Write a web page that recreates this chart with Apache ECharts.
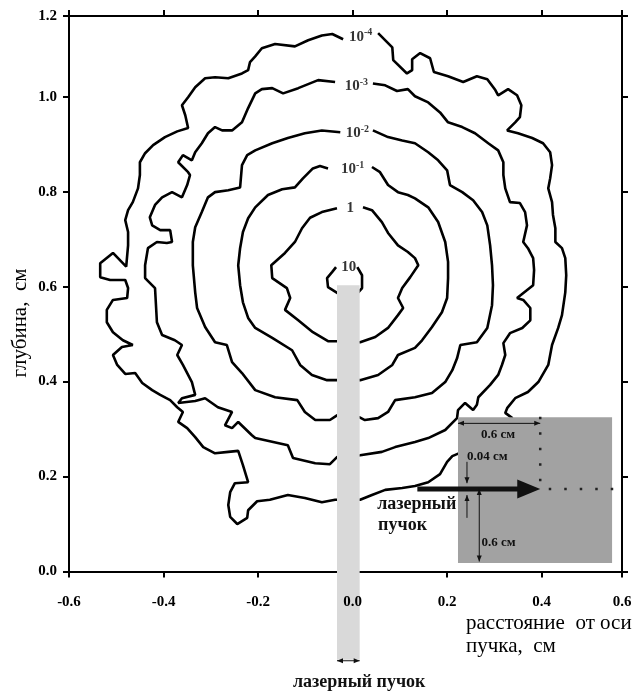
<!DOCTYPE html>
<html>
<head>
<meta charset="utf-8">
<script src="https://cdn.jsdelivr.net/npm/echarts@6/dist/echarts.min.js"></script>
<style>
html,body{margin:0;padding:0;background:#fff}
#main{width:632px;height:695px}
</style>
</head>
<body>
<div id="main"></div>
<script>
// ---------- данные: изолинии (x — расстояние от оси, см; y — глубина, см) ----------
var c4 = [[0.054,1.134],[0.084,1.104],[0.086,1.077],[0.115,1.049],[0.126,1.056],[0.126,1.079],[0.143,1.092],[0.164,1.081],[0.172,1.052],[0.202,1.043],[0.234,1.031],[0.263,1.043],[0.285,1.037],[0.302,1.014],[0.308,1.003],[0.329,1.016],[0.348,1.003],[0.357,0.982],[0.354,0.957],[0.344,0.946],[0.327,0.929],[0.350,0.923],[0.380,0.913],[0.403,0.902],[0.418,0.883],[0.422,0.856],[0.418,0.828],[0.414,0.807],[0.422,0.778],[0.424,0.751],[0.429,0.723],[0.429,0.694],[0.443,0.681],[0.450,0.660],[0.452,0.624],[0.450,0.588],[0.443,0.540],[0.435,0.513],[0.422,0.477],[0.414,0.435],[0.393,0.399],[0.371,0.378],[0.344,0.365],[0.327,0.344],[0.323,0.334],[0.338,0.323],[0.291,0.277],[0.232,0.252],[0.211,0.243],[0.200,0.231],[0.185,0.205],[0.160,0.188],[0.132,0.180],[0.105,0.176],[0.069,0.172],[0.041,0.161],[0.016,0.151],[-0.037,0.151],[-0.065,0.146],[-0.101,0.155],[-0.137,0.161],[-0.175,0.151],[-0.202,0.148],[-0.221,0.129],[-0.223,0.113],[-0.244,0.100],[-0.259,0.115],[-0.263,0.140],[-0.259,0.167],[-0.249,0.186],[-0.221,0.188],[-0.232,0.224],[-0.242,0.254],[-0.263,0.252],[-0.291,0.249],[-0.316,0.262],[-0.333,0.283],[-0.350,0.302],[-0.369,0.315],[-0.359,0.336],[-0.371,0.346],[-0.386,0.361],[-0.407,0.372],[-0.424,0.382],[-0.445,0.397],[-0.460,0.418],[-0.481,0.416],[-0.498,0.435],[-0.507,0.456],[-0.488,0.473],[-0.465,0.477],[-0.486,0.487],[-0.507,0.504],[-0.520,0.525],[-0.520,0.551],[-0.507,0.572],[-0.477,0.576],[-0.475,0.597],[-0.481,0.614],[-0.513,0.614],[-0.534,0.620],[-0.534,0.649],[-0.507,0.671],[-0.479,0.642],[-0.475,0.687],[-0.475,0.715],[-0.481,0.740],[-0.475,0.761],[-0.465,0.778],[-0.454,0.807],[-0.450,0.835],[-0.450,0.862],[-0.439,0.881],[-0.422,0.898],[-0.397,0.915],[-0.371,0.927],[-0.348,0.934],[-0.354,0.961],[-0.361,0.982],[-0.348,0.999],[-0.333,1.020],[-0.312,1.039],[-0.291,1.041],[-0.263,1.039],[-0.234,1.049],[-0.221,1.056],[-0.217,1.073],[-0.206,1.085],[-0.192,1.102],[-0.164,1.111],[-0.122,1.106],[-0.094,1.119],[-0.065,1.129],[-0.043,1.132],[-0.020,1.121]];

var c3 = [[0.043,1.028],[0.069,1.024],[0.094,1.012],[0.117,1.016],[0.132,1.001],[0.160,0.988],[0.185,0.967],[0.202,0.946],[0.232,0.936],[0.259,0.923],[0.287,0.902],[0.308,0.887],[0.319,0.862],[0.319,0.835],[0.323,0.807],[0.333,0.778],[0.354,0.776],[0.365,0.757],[0.369,0.729],[0.361,0.694],[0.371,0.681],[0.382,0.660],[0.384,0.635],[0.382,0.603],[0.348,0.576],[0.361,0.572],[0.376,0.555],[0.376,0.529],[0.359,0.513],[0.333,0.502],[0.319,0.481],[0.323,0.456],[0.316,0.435],[0.308,0.414],[0.291,0.393],[0.266,0.367],[0.263,0.351],[0.255,0.340],[0.238,0.355],[0.223,0.340],[0.221,0.323],[0.213,0.315],[0.196,0.298],[0.160,0.281],[0.132,0.273],[0.090,0.262],[0.062,0.252],[0.016,0.245],[-0.033,0.241],[-0.048,0.226],[-0.079,0.228],[-0.126,0.239],[-0.137,0.266],[-0.206,0.281],[-0.213,0.287],[-0.242,0.315],[-0.255,0.302],[-0.270,0.308],[-0.255,0.336],[-0.285,0.346],[-0.312,0.365],[-0.333,0.359],[-0.369,0.355],[-0.361,0.365],[-0.333,0.372],[-0.340,0.399],[-0.359,0.435],[-0.371,0.456],[-0.361,0.477],[-0.376,0.487],[-0.403,0.498],[-0.414,0.525],[-0.418,0.597],[-0.439,0.618],[-0.439,0.645],[-0.433,0.681],[-0.414,0.694],[-0.393,0.692],[-0.382,0.694],[-0.386,0.719],[-0.407,0.719],[-0.424,0.729],[-0.429,0.746],[-0.418,0.772],[-0.403,0.788],[-0.382,0.799],[-0.361,0.788],[-0.350,0.814],[-0.344,0.835],[-0.348,0.841],[-0.369,0.862],[-0.359,0.877],[-0.340,0.866],[-0.333,0.883],[-0.319,0.902],[-0.306,0.923],[-0.291,0.936],[-0.276,0.929],[-0.255,0.929],[-0.234,0.946],[-0.221,0.976],[-0.206,1.007],[-0.192,1.016],[-0.170,1.018],[-0.147,1.007],[-0.115,1.018],[-0.073,1.035],[-0.037,1.031]];

var c2 = [[0.043,0.929],[0.075,0.915],[0.105,0.908],[0.132,0.902],[0.160,0.883],[0.181,0.866],[0.200,0.845],[0.206,0.814],[0.232,0.799],[0.255,0.782],[0.274,0.757],[0.285,0.729],[0.291,0.687],[0.295,0.645],[0.297,0.603],[0.295,0.561],[0.285,0.513],[0.263,0.483],[0.228,0.477],[0.221,0.449],[0.211,0.424],[0.196,0.399],[0.168,0.376],[0.132,0.367],[0.090,0.361],[0.075,0.336],[0.054,0.323],[0.026,0.319],[0.014,0.325],[-0.033,0.329],[-0.048,0.319],[-0.079,0.319],[-0.101,0.336],[-0.117,0.361],[-0.164,0.367],[-0.206,0.382],[-0.234,0.418],[-0.255,0.441],[-0.266,0.477],[-0.291,0.483],[-0.312,0.515],[-0.329,0.555],[-0.333,0.588],[-0.338,0.645],[-0.338,0.694],[-0.333,0.725],[-0.319,0.757],[-0.306,0.788],[-0.291,0.799],[-0.263,0.803],[-0.238,0.809],[-0.234,0.856],[-0.223,0.877],[-0.206,0.887],[-0.170,0.902],[-0.137,0.913],[-0.101,0.923],[-0.065,0.929],[-0.026,0.925]];

var c1 = [[0.041,0.852],[0.058,0.841],[0.075,0.814],[0.096,0.799],[0.117,0.793],[0.132,0.786],[0.160,0.767],[0.181,0.736],[0.196,0.694],[0.202,0.652],[0.202,0.618],[0.200,0.576],[0.189,0.546],[0.168,0.515],[0.147,0.487],[0.132,0.471],[0.096,0.456],[0.084,0.435],[0.054,0.414],[0.016,0.403],[-0.033,0.403],[-0.054,0.403],[-0.086,0.414],[-0.111,0.435],[-0.128,0.466],[-0.170,0.492],[-0.206,0.513],[-0.221,0.534],[-0.232,0.567],[-0.238,0.603],[-0.242,0.645],[-0.238,0.681],[-0.232,0.715],[-0.221,0.744],[-0.206,0.767],[-0.179,0.793],[-0.149,0.805],[-0.122,0.809],[-0.105,0.828],[-0.084,0.849],[-0.069,0.854],[-0.052,0.849]];

var c0 = [[0.022,0.767],[0.041,0.761],[0.062,0.736],[0.075,0.713],[0.096,0.687],[0.117,0.673],[0.132,0.660],[0.139,0.645],[0.122,0.620],[0.105,0.597],[0.096,0.576],[0.107,0.555],[0.096,0.540],[0.075,0.513],[0.048,0.494],[0.016,0.483],[-0.033,0.485],[-0.052,0.485],[-0.084,0.504],[-0.115,0.529],[-0.143,0.551],[-0.132,0.576],[-0.139,0.597],[-0.170,0.618],[-0.172,0.645],[-0.143,0.671],[-0.122,0.694],[-0.107,0.723],[-0.090,0.745],[-0.065,0.757],[-0.033,0.765]];

var c10 = [[0.010,0.641],[0.020,0.624],[0.020,0.597],[0.012,0.588],[-0.031,0.586],[-0.052,0.599],[-0.054,0.618],[-0.043,0.631],[-0.035,0.641]];

var contours = [c4, c3, c2, c1, c0, c10];

// подписи изолиний: основание, показатель, положение
var levelBase = ['10', '10', '10', '10', '1', '10'];
var levelExp  = ['-4', '-3', '-2', '-1', '', ''];
var levelPos  = [[0.017,1.126],[0.008,1.022],[0.010,0.923],[0.000,0.847],[-0.005,0.765],[-0.008,0.641]];

// лазерный пучок (x0, x1, верх, низ) и вставка
var beam = [-0.033, 0.015, 0.603, -0.186];
var inset = [0.223, 0.549, 0.325, 0.018];

var xMin = -0.6, xMax = 0.57, yMin = 0, yMax = 1.17, step = 0.2;
var serif = '"Liberation Serif", "Times New Roman", serif';

var myChart = echarts.init(document.getElementById('main'));

function fmtX(v) { return (v > 0.55 ? 0.6 : v).toFixed(1); }
function fmtY(v) { return (v > 1.15 ? 1.2 : v).toFixed(1); }

function head(tip, tail, len, half, color) {
	var dx = tip[0] - tail[0], dy = tip[1] - tail[1];
	var d = Math.sqrt(dx * dx + dy * dy) || 1;
	var ux = dx / d, uy = dy / d;
	var bx = tip[0] - ux * len, by = tip[1] - uy * len;
	return {type: 'polygon', shape: {points: [[tip[0], tip[1]], [bx - uy * half, by + ux * half], [bx + uy * half, by - ux * half]]}, style: {fill: color}};
}
function dim(a, b, both) {
	var out = [{type: 'line', shape: {x1: a[0], y1: a[1], x2: b[0], y2: b[1]}, style: {stroke: '#111', lineWidth: 1}}];
	out.push(head(b, a, 6, 2.5, '#111'));
	if (both) out.push(head(a, b, 6, 2.5, '#111'));
	return out;
}
function txt(p, s, size, align) {
	return {type: 'text', x: p[0], y: p[1], style: {text: s, font: 'bold ' + size + 'px ' + serif, fill: '#111', align: align || 'center', verticalAlign: 'middle'}};
}

// серый столбик пучка + подпись под осью
function beamRender(params, api) {
	var p0 = api.coord([beam[0], beam[2]]);
	var p1 = api.coord([beam[1], beam[3]]);
	var kids = [{type: 'rect', shape: {x: p0[0], y: p0[1], width: p1[0] - p0[0], height: p1[1] - p0[1]}, style: {fill: '#d9d9d9'}}];
	kids = kids.concat(dim(api.coord([beam[0], -0.188]), api.coord([beam[1], -0.188]), true));
	kids.push(txt(api.coord([0.014, -0.234]), 'лазерный пучок', 18));
	return {type: 'group', children: kids};
}

// вставка: схема облучения
function insetRender(params, api) {
	var c = function (p) { return api.coord(p); };
	var b0 = c([inset[0], inset[2]]), b1 = c([inset[1], inset[3]]);
	var kids = [{type: 'rect', shape: {x: b0[0], y: b0[1], width: b1[0] - b0[0], height: b1[1] - b0[1]}, style: {fill: '#a2a2a2'}}];
	// точечные линии
	var h0 = c([0.415, 0.174]), h1 = c([0.552, 0.174]);
	kids.push({type: 'line', shape: {x1: h0[0], y1: h0[1], x2: h1[0], y2: h1[1]}, style: {stroke: '#222', lineWidth: 2.5, lineDash: [2.5, 13]}});
	var v0 = c([0.397, 0.326]), v1 = c([0.397, 0.186]);
	kids.push({type: 'line', shape: {x1: v0[0], y1: v0[1], x2: v1[0], y2: v1[1]}, style: {stroke: '#222', lineWidth: 2.5, lineDash: [2.5, 13]}});
	// толстая стрелка пучка
	var a0 = c([0.137, 0.174]), a1 = c([0.397, 0.174]);
	kids.push({type: 'line', shape: {x1: a0[0], y1: a0[1], x2: a1[0] - 15, y2: a1[1]}, style: {stroke: '#111', lineWidth: 5}});
	kids.push(head(a1, a0, 23, 9.5, '#111'));
	// размерные стрелки
	kids = kids.concat(dim(c([0.223, 0.312]), c([0.397, 0.312]), true));
	kids = kids.concat(dim(c([0.268, 0.174]), c([0.268, 0.021]), true));
	kids = kids.concat(dim(c([0.242, 0.231]), c([0.242, 0.186]), false));
	kids = kids.concat(dim(c([0.242, 0.113]), c([0.242, 0.161]), false));
	kids.push(txt(c([0.308, 0.289]), '0.6 см', 13));
	kids.push(txt(c([0.285, 0.241]), '0.04 см', 13));
	kids.push(txt(c([0.309, 0.061]), '0.6 см', 13));
	kids.push(txt(c([0.052, 0.142]), 'лазерный', 18, 'left'));
	kids.push(txt(c([0.054, 0.097]), 'пучок', 18, 'left'));
	return {type: 'group', children: kids};
}

var series = [];
for (var i = 0; i < contours.length; i++) {
	series.push({
		type: 'line',
		data: contours[i],
		symbol: 'none',
		lineStyle: {color: '#000', width: 2.6},
		z: 2,
		silent: true
	});
}
series.push({
	type: 'scatter',
	symbolSize: 0,
	z: 6,
	silent: true,
	data: levelPos.map(function (p, i) {
		var t = '{b|' + levelBase[i] + '}' + (levelExp[i] ? '{s|' + levelExp[i] + '}' : '');
		return {value: p, label: {formatter: t}};
	}),
	label: {
		show: true,
		position: 'inside',
		rich: {
			b: {fontFamily: serif, fontWeight: 'bold', fontSize: 15, color: '#000'},
			s: {fontFamily: serif, fontWeight: 'bold', fontSize: 10, color: '#000', padding: [0, 0, 8, 0]}
		}
	}
});
series.push({type: 'custom', renderItem: beamRender, data: [[beam[0], beam[2]]], clip: false, z: 5, silent: true});
series.push({type: 'custom', renderItem: insetRender, data: [[inset[0], inset[2]]], clip: false, z: 7, silent: true});

var axisLineStyle = {show: true, onZero: false, lineStyle: {color: '#000', width: 2}};
var tickStyle = {show: true, inside: false, length: 6, lineStyle: {color: '#000', width: 2}};
var labelStyle = {fontFamily: serif, fontWeight: 'bold', fontSize: 15, color: '#000'};

option = {
	animation: false,
	backgroundColor: '#fff',
	grid: {left: 69, right: 10, top: 16, bottom: 123.5, containLabel: false, outerBoundsMode: 'none'},
	xAxis: [
		{type: 'value', position: 'bottom', min: xMin, max: xMax, interval: step, axisLine: axisLineStyle, axisTick: tickStyle, axisLabel: {show: false}, splitLine: {show: false}, z: 0},
		{type: 'value', position: 'top', min: xMin, max: xMax, interval: step, axisLine: axisLineStyle, axisTick: tickStyle, axisLabel: {show: false}, splitLine: {show: false}},
		{type: 'value', position: 'bottom', min: xMin, max: xMax, interval: step, axisLine: {show: false, onZero: false}, axisTick: {show: false}, splitLine: {show: false}, z: 10,
			axisLabel: Object.assign({margin: 23, formatter: fmtX}, labelStyle)}
	],
	yAxis: [
		{type: 'value', position: 'left', min: yMin, max: yMax, interval: step, axisLine: axisLineStyle, axisTick: tickStyle, splitLine: {show: false},
			axisLabel: Object.assign({margin: 12, formatter: fmtY}, labelStyle)},
		{type: 'value', position: 'right', min: yMin, max: yMax, interval: step, axisLine: axisLineStyle, axisTick: tickStyle, axisLabel: {show: false}, splitLine: {show: false}}
	],
	graphic: [
		{type: 'text', x: 20, y: 323, rotation: Math.PI / 2, style: {text: 'глубина,  см', font: '21px ' + serif, fill: '#000', align: 'center', verticalAlign: 'middle'}},
		{type: 'text', x: 466, y: 623, style: {text: 'расстояние  от оси', font: '21px ' + serif, fill: '#000', align: 'left', verticalAlign: 'middle'}},
		{type: 'text', x: 466, y: 646, style: {text: 'пучка,  см', font: '21px ' + serif, fill: '#000', align: 'left', verticalAlign: 'middle'}}
	],
	series: series
};
myChart.setOption(option);
</script>
</body>
</html>
